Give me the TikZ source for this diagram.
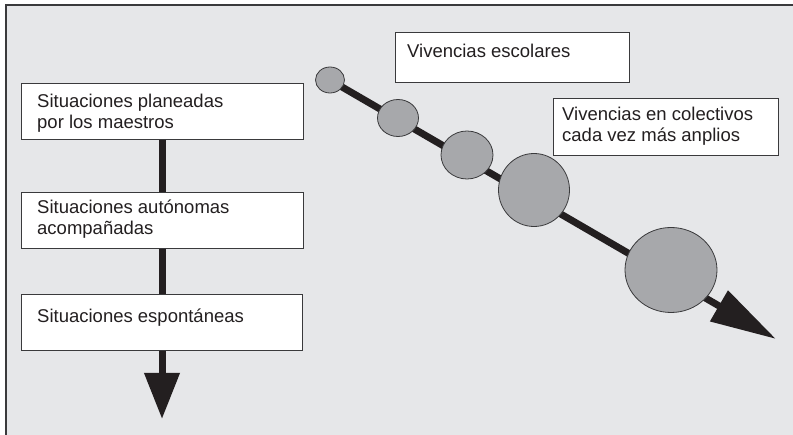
\documentclass[tikz,border=0pt]{standalone}
\usepackage{fontspec}
\setmainfont{Liberation Sans}
\usetikzlibrary{arrows.meta,shapes.geometric,calc,backgrounds}
\definecolor{panel}{HTML}{E6E7E9}
\definecolor{bubble}{HTML}{A7A8AB}
\definecolor{ink}{HTML}{231F20}
\definecolor{rim}{HTML}{3A3A3C}
\begin{document}
\begin{tikzpicture}[x=1pt,y=-1pt,
  box/.style={draw=rim, line width=1pt, fill=white, rectangle, inner sep=0pt, anchor=north west},
  lbl/.style={inner sep=0pt, anchor=north west, align=left, text=ink,
    font=\fontsize{18.5}{21}\selectfont},
  bub/.style={draw=rim, line width=0.8pt, fill=bubble, ellipse, inner sep=0pt},
  flow/.style={draw=ink, line width=7pt},
  bigtip/.style={-{Triangle[length=#1,width=34pt]}}
]
\useasboundingbox (0,0) rectangle (793,435);

% left column of situations
\node[box, minimum width=282pt, minimum height=56pt] (b1) at (21,83) {};
\node[box, minimum width=282pt, minimum height=56pt] (b2) at (21,192) {};
\node[box, minimum width=281pt, minimum height=56pt] (b3) at (21,294) {};
\coordinate (downtip) at (162,419);

\draw[flow] (b1.south -| 162,0) -- (b2.north -| 162,0);
\draw[flow] (b2.south -| 162,0) -- (b3.north -| 162,0);
\draw[flow, bigtip=46pt] (b3.south -| 162,0) -- (downtip);

\node[lbl] (t1) at ($(b1.north west)+(16,10.5)$) {Situaciones planeadas\\por los maestros};
\node[lbl] (t2) at ($(b2.north west)+(16,7.5)$) {Situaciones autónomas\\acompañadas};
\node[lbl] (t3) at ($(b3.north west)+(16,14.5)$) {Situaciones espontáneas};

% right side labels
\node[box, minimum width=234pt, minimum height=50pt] (v1) at (395,32) {};
\node[lbl] (tv1) at ($(v1.north west)+(12,11.5)$) {Vivencias escolares};
\node[box, minimum width=225pt, minimum height=57pt] (v2) at (553,98) {};
\node[lbl] (tv2) at ($(v2.north west)+(9,8.5)$) {Vivencias en colectivos\\cada vez más anplios};

% growing circles along the diagonal
\node[bub, minimum width=29pt, minimum height=26pt] (c1) at (330,80) {};
\node[bub, minimum width=41pt, minimum height=37pt] (c2) at (398,118) {};
\node[bub, minimum width=52pt, minimum height=48pt] (c3) at (467,155) {};
\node[bub, minimum width=71pt, minimum height=73pt] (c4) at (534,190) {};
\node[bub, minimum width=92pt, minimum height=85pt] (c5) at (671,270) {};
\coordinate (difftip) at (776,339);

\begin{scope}[on background layer]
  % panel with its top and left rules, then the diagonal arrow behind the circles
  \fill[panel] (6,5) rectangle (793,435);
  \draw[rim, line width=1.6pt] (6,435) -- (6,5) -- (793,5);
  \draw[flow, bigtip=66pt] (c1.center) -- (difftip);
\end{scope}
\end{tikzpicture}
\end{document}
